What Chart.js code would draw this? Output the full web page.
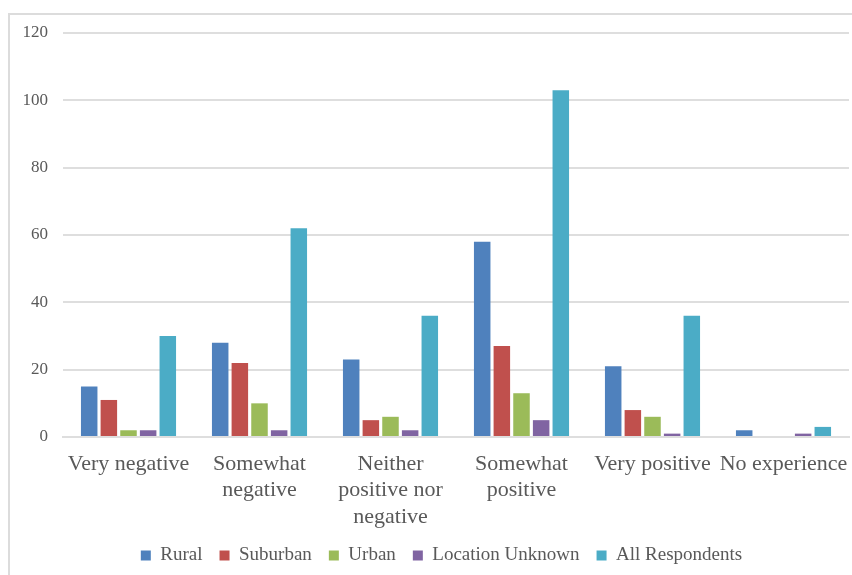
<!DOCTYPE html>
<html>
<head>
<meta charset="utf-8">
<script src="https://cdn.jsdelivr.net/npm/chart.js@4"></script>
<style>
  body { margin: 0; background: #fff; }
  #frame {
    position: absolute; left: 8px; top: 13px;
    width: 842px; height: 560px;
    border-left: 2px solid #dcdcdc; border-top: 2px solid #dcdcdc;
  }
</style>
</head>
<body>
<div id="frame"><canvas id="chart"></canvas></div>
<script>
const categories = [
  "Very negative",
  ["Somewhat", "negative"],
  ["Neither", "positive nor", "negative"],
  ["Somewhat", "positive"],
  "Very positive",
  "No experience",
];
const rural = [15, 28, 23, 58, 21, 2];
const suburban = [11, 22, 5, 27, 8, 0];
const urban = [2, 10, 6, 13, 6, 0];
const locationUnknown = [2, 2, 2, 5, 1, 1];
const allRespondents = [30, 62, 36, 103, 36, 3];

const serif = "'Liberation Serif', 'Times New Roman', serif";
const textColor = "#595959";
const gridColor = "#dedede";

function series(label, data, color) {
  return { label: label, data: data, backgroundColor: color, borderWidth: 0 };
}

// legend sits a little right of the canvas centre
const nudgeLegend = {
  id: "nudgeLegend",
  afterLayout(chart) {
    chart.legend.left += 12;
    chart.legend.right += 12;
  },
};

new Chart(document.getElementById("chart"), {
  type: "bar",
  data: {
    labels: categories,
    datasets: [
      series("Rural", rural, "#4f81bd"),
      series("Suburban", suburban, "#c0504d"),
      series("Urban", urban, "#9bbb59"),
      series("Location Unknown", locationUnknown, "#8064a2"),
      series("All Respondents", allRespondents, "#4bacc6"),
    ],
  },
  plugins: [nudgeLegend],
  options: {
    responsive: true,
    maintainAspectRatio: false,
    animation: false,
    layout: { padding: { top: 18, right: 3, bottom: 0, left: 0 } },
    datasets: { bar: { categoryPercentage: 0.75, barPercentage: 0.84 } },
    scales: {
      x: {
        grid: { display: false, drawTicks: false },
        border: { color: gridColor, width: 2 },
        ticks: {
          color: textColor,
          font: { family: serif, size: 22 },
          maxRotation: 0,
          autoSkip: false,
          padding: 14,
        },
        afterFit: (scale) => {
          scale.height = 92;
          scale.paddingLeft = 0;
          scale.paddingRight = 0;
        },
      },
      y: {
        min: 0,
        max: 120,
        ticks: {
          stepSize: 20,
          color: textColor,
          font: { family: serif, size: 17 },
          padding: 15,
        },
        grid: { color: gridColor, lineWidth: 2, drawTicks: false },
        border: { display: false },
        afterFit: (scale) => {
          scale.width = 53;
          scale.paddingTop = 0;
          scale.paddingBottom = 0;
        },
      },
    },
    plugins: {
      legend: {
        position: "bottom",
        labels: {
          color: textColor,
          font: { family: serif, size: 19 },
          boxWidth: 10,
          boxHeight: 10,
          padding: 17,
        },
      },
      tooltip: { enabled: false },
    },
  },
});
</script>
</body>
</html>
